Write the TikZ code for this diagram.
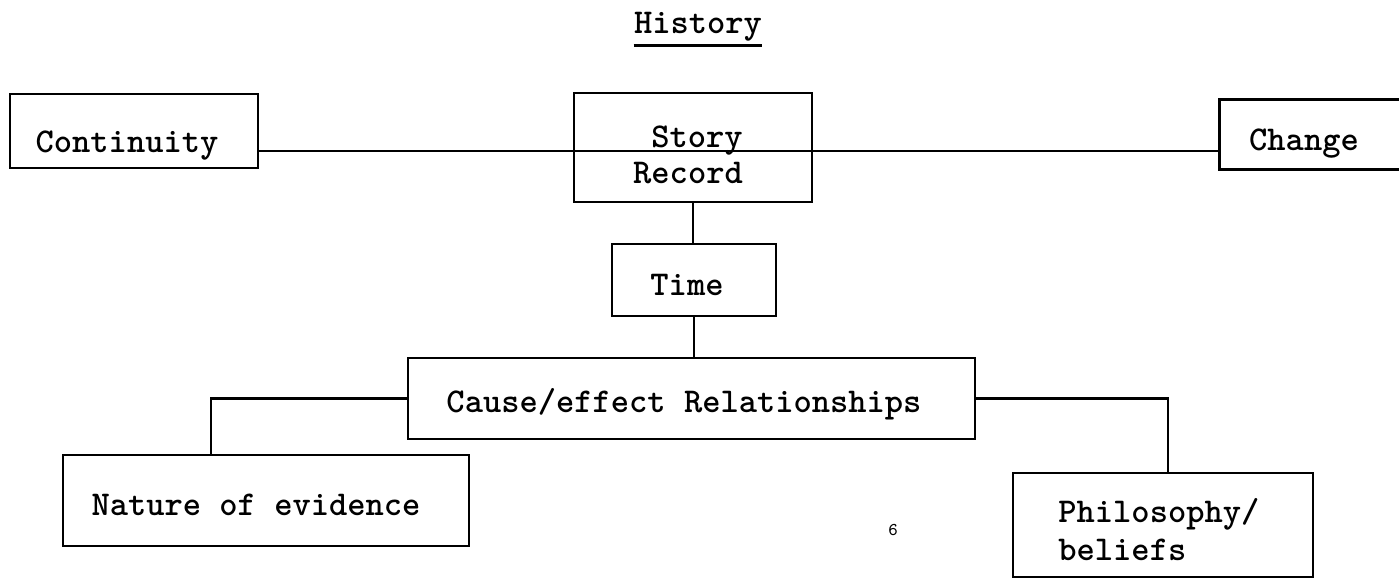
\documentclass[tikz,border=0pt]{standalone}
\usepackage{fontspec}
\newcommand{\twfont}{\ttfamily\bfseries\fontsize{17.4}{19}\selectfont}
\begin{document}
\begin{tikzpicture}[x=0.5pt,y=-0.5pt,
  box/.style={draw=black,line width=1.3pt,inner sep=0pt},
  lbl/.style={font=\twfont,inner sep=0pt,text=black,text height=10pt,text depth=0pt},
  link/.style={line width=1.3pt,draw=black}]
\useasboundingbox[fill=white] (0,0) rectangle (1399,579);

% title
\node[lbl] (title) at (698,23) {History};
\draw[link] ([yshift=-6pt]title.south west) -- ([yshift=-6pt]title.south east);

% boxes
\node[box,minimum width=124pt,minimum height=37pt] (cont) at (134,131) {};
\node[box,minimum width=119pt,minimum height=54.5pt] (story) at (693,147.5) {};
\node[draw=none,inner sep=0pt,minimum width=89.5pt,minimum height=34.5pt] (chg) at (1309.5,134.5) {};
\draw[link] (chg.north east) -- (chg.north west) -- (chg.south west) -- (chg.south east);
\node[box,minimum width=82pt,minimum height=36pt] (time) at (694,280) {};
\node[box,minimum width=283.5pt,minimum height=40.5pt] (cause) at (691.5,398.5) {};
\node[box,minimum width=203pt,minimum height=45.5pt] (nat) at (266,500.5) {};
\node[box,minimum width=150pt,minimum height=52pt] (phil) at (1163,525) {};

% texts
\node[lbl] (tcont) at (127,142) {Continuity};
\node[lbl] (tstory) at (697,137) {Story};
\node[lbl] (trec) at (688,173) {Record};
\node[lbl] (tchg) at (1304,140) {Change};
\node[lbl] (ttime) at (687,285) {Time};
\node[lbl] (tcause) at (684,402) {Cause/effect Relationships};
\node[lbl] (tnat) at (256,505) {Nature of evidence};
\node[lbl,anchor=west] (tphil1) at (1058,512) {Philosophy/};
\node[lbl,anchor=west] (tphil2) at (1058,550) {beliefs};
\node[font=\ttfamily\fontsize{9}{10}\selectfont,inner sep=0pt] (pg) at (893,530) {6};

% connectors
\draw[link] ([yshift=-10pt]cont.east) coordinate (c1) -- (c1 -| chg.west);
\draw[link] (story.south) -- (story.south |- time.north);
\draw[link] (time.south) -- (time.south |- cause.north);
\draw[link] (cause.west) -| ([xshift=-27.5pt]nat.north);
\draw[link] (cause.east) -| ([xshift=2.5pt]phil.north);
\end{tikzpicture}
\end{document}
